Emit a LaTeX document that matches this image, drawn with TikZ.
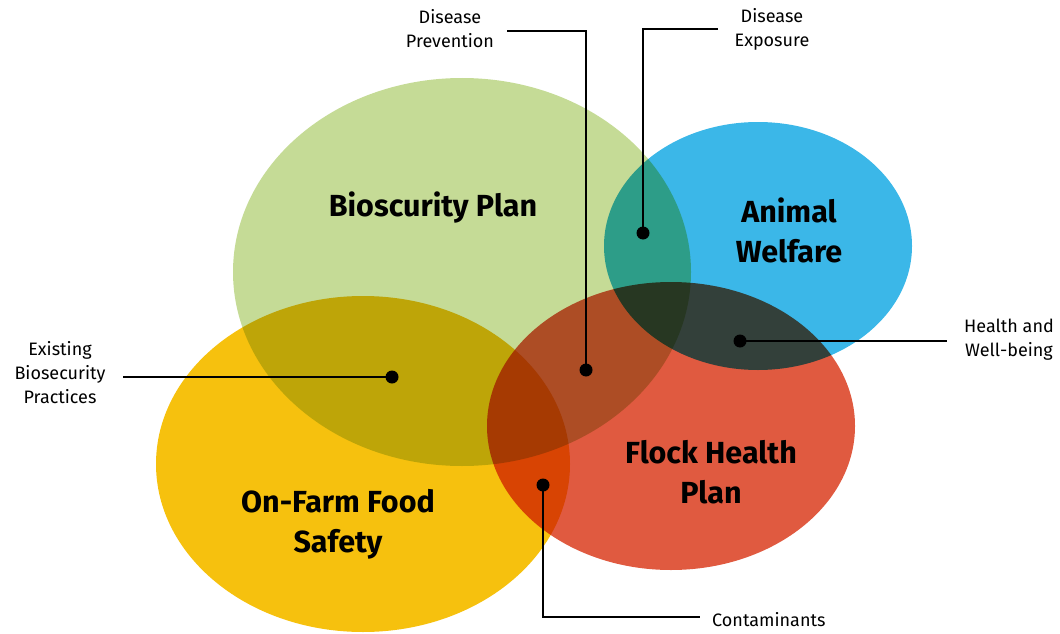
\documentclass[tikz,border=0pt]{standalone}
\usepackage{fontspec}
\setmainfont{Fira Sans}
\usetikzlibrary{calc}
\definecolor{cgreen}{HTML}{C5DB96}
\definecolor{cblue}{HTML}{3BB7E8}
\definecolor{cyellow}{HTML}{F6C10E}
\definecolor{cred}{HTML}{E05A40}
\tikzset{
  big/.style={font=\fontsize{30.5}{40}\selectfont\bfseries, align=center, text=black, inner sep=0pt},
  small/.style={font=\fontsize{18}{24}\selectfont, align=center, text=black, inner sep=0pt},
  lead/.style={line width=2.7pt, black},
  dot/.style={circle, fill=black, minimum size=13pt, inner sep=0pt},
}
\begin{document}
\begin{tikzpicture}[x=1pt,y=-1pt]
\useasboundingbox (0,0) rectangle (1060,634);
\begin{scope}[blend group=multiply]
  \fill[cgreen] (462,272) ellipse [x radius=229, y radius=194];
  \fill[cyellow] (363,464) ellipse [x radius=207, y radius=168];
  \fill[cblue] (758,246) ellipse [x radius=154, y radius=124];
  \fill[cred] (671,426) ellipse [x radius=184, y radius=144];
\end{scope}
% big labels
\node[big] (bio) at (433,208) {Bioscurity Plan};
\node[big] (aw) at (789,230) {Animal\\Welfare};
\node[big] (fh) at (711,472) {Flock Health\\Plan};
\node[big] (of) at (338,524) {On-Farm Food\\Safety};
% dots
\node[dot] (d1) at (392,377) {};
\node[dot] (d2) at (586,370) {};
\node[dot] (d3) at (643,233) {};
\node[dot] (d4) at (740,341) {};
\node[dot] (d5) at (543,485) {};
% small labels
\node[small] (t1) at (60,373) {Existing\\Biosecurity\\Practices};
\node[small] (t2) at (450,29) {Disease\\Prevention};
\node[small] (t3) at (772,29) {Disease\\Exposure};
\node[small] (t4) at (1009,340) {Health and\\Well-being};
\node[small,anchor=west] (t5) at (712,620) {Contaminants};
% coordinates
\coordinate (c1) at (123,377);
\coordinate (c2a) at (507,31);
\coordinate (c2b) at (586,31);
\coordinate (c3a) at (643,29);
\coordinate (c3b) at (718,29);
\coordinate (c4) at (947,341);
\coordinate (c5a) at (543,617);
\coordinate (c5b) at (700,617);
% leaders
\draw[lead] (c1) -- (d1.center);
\draw[lead] (c2a) -- (c2b) -- (d2.center);
\draw[lead] (c3b) -- (c3a) -- (d3.center);
\draw[lead] (d4.center) -- (c4);
\draw[lead] (d5.center) -- (c5a) -- (c5b);
\end{tikzpicture}
\end{document}
